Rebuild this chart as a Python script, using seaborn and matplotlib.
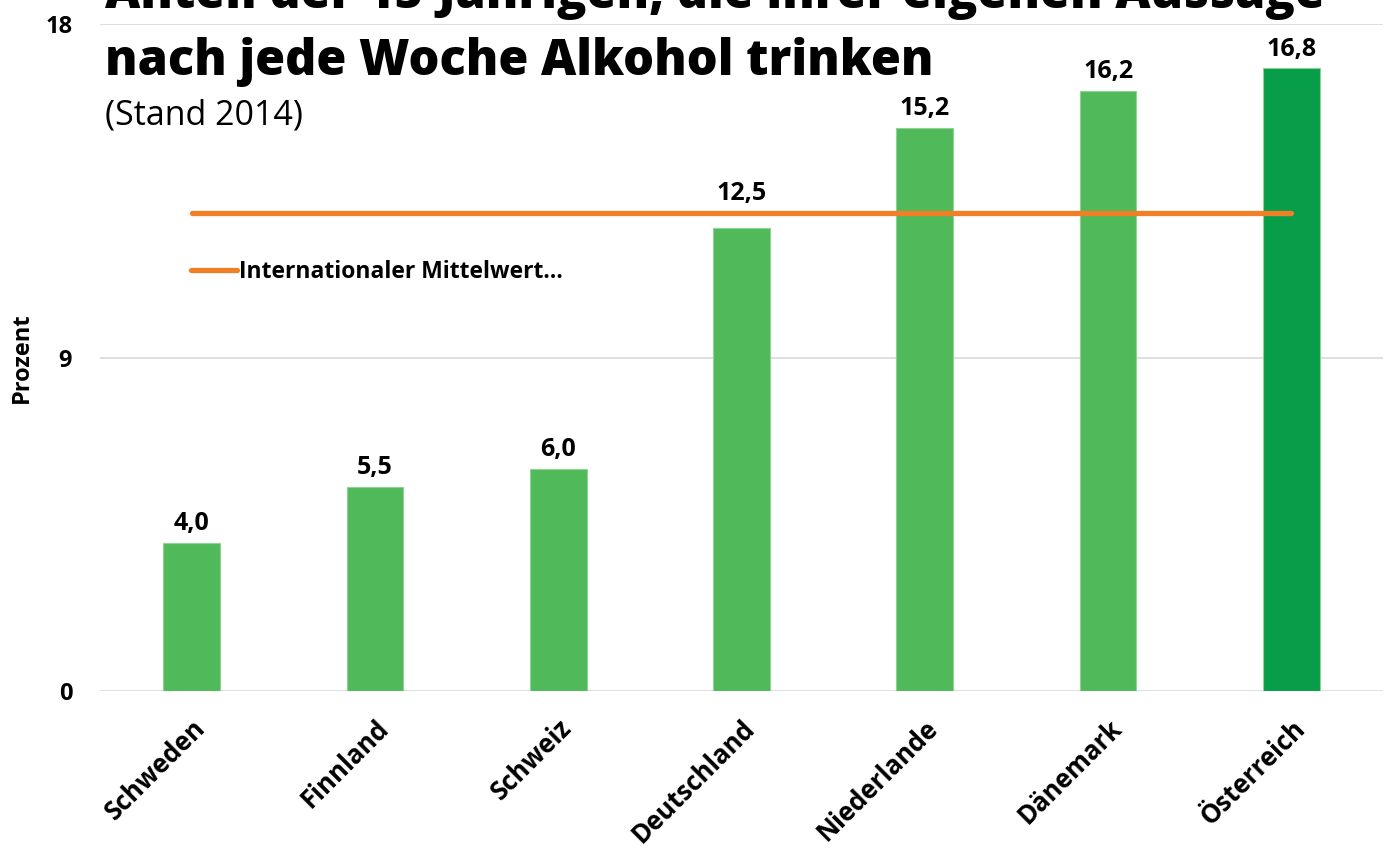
import seaborn as sns
import matplotlib.pyplot as plt
import pandas as pd

countries = ["Schweden", "Finnland", "Schweiz", "Deutschland", "Niederlande", "Dänemark", "Österreich"]
values = [4.0, 5.5, 6.0, 12.5, 15.2, 16.2, 16.8]
mean_value = 12.9
bar_colors = ["#50B95A"] * 6 + ["#079D49"]

df = pd.DataFrame({"Land": countries, "Prozent": values})
df_mean = pd.DataFrame({"Land": countries, "Mittel": [mean_value] * len(countries)})

sns.set_style("white")
plt.rcParams["font.family"] = ["Open Sans", "DejaVu Sans"]
plt.rcParams["text.color"] = "black"
plt.rcParams["xtick.color"] = "black"
plt.rcParams["ytick.color"] = "black"
plt.rcParams["axes.labelcolor"] = "black"

fig = plt.figure(figsize=(13.86, 8.48), dpi=100)
ax = fig.add_axes([100 / 1386, 1 - 691 / 848, 1283 / 1386, 667 / 848])

sns.barplot(data=df, x="Land", y="Prozent", hue="Land", palette=bar_colors,
            saturation=1, width=0.31, legend=False, ax=ax, zorder=2,
            edgecolor="#8FD394", linewidth=0.8)
sns.lineplot(data=df_mean, x="Land", y="Mittel", color="#F07F26", linewidth=3.8,
             solid_capstyle="round", sort=False, ax=ax, zorder=3,
             label="Internationaler Mittelwert…")

for i, v in enumerate(values):
    # labels that would collide with the mean line get pushed above it
    anchor = max(v, mean_value) if abs(v - mean_value) < 1 else v
    ax.annotate(f"{v:.1f}".replace(".", ","), (i, anchor), xytext=(0, 5), textcoords="offset points",
                ha="center", va="bottom", fontsize=18, fontweight="bold")

ax.set_xlim(-0.5, len(countries) - 0.5)
ax.set_ylim(0, 18)
ax.set_yticks([0, 9, 18])
ax.set_yticklabels(["0", "9", "18"], fontsize=17, fontweight="bold")
ax.yaxis.grid(True, color="#D9D9D9", linewidth=1.2, zorder=0)
ax.set_axisbelow(True)
ax.tick_params(axis="y", length=0, pad=20)
ax.tick_params(axis="x", length=0, pad=17)
plt.setp(ax.get_xticklabels(), rotation=45, ha="right", rotation_mode="anchor",
         fontsize=18.5, fontweight="bold")
ax.set_xlabel("")
ax.set_ylabel("Prozent", fontsize=17, fontweight="bold", labelpad=8)
sns.despine(ax=ax, left=True, bottom=True, top=True, right=True)

leg = ax.legend(loc="upper left", bbox_to_anchor=(0.064, 0.66), frameon=False,
                handlelength=2.0, handletextpad=0.1, borderaxespad=0,
                prop={"size": 16.5, "weight": "bold"})

fig.text(105 / 1386, 1 - 8 / 848, "Anteil der 15-Jährigen, die ihrer eigenen Aussage",
         fontsize=35, fontweight="heavy", va="baseline", ha="left")
fig.text(105 / 1386, 1 - 75 / 848, "nach jede Woche Alkohol trinken",
         fontsize=35, fontweight="heavy", va="baseline", ha="left")
fig.text(105 / 1386, 1 - 125 / 848, "(Stand 2014)", fontsize=24.5, va="baseline", ha="left")

fig.savefig("out.png", dpi=100)
